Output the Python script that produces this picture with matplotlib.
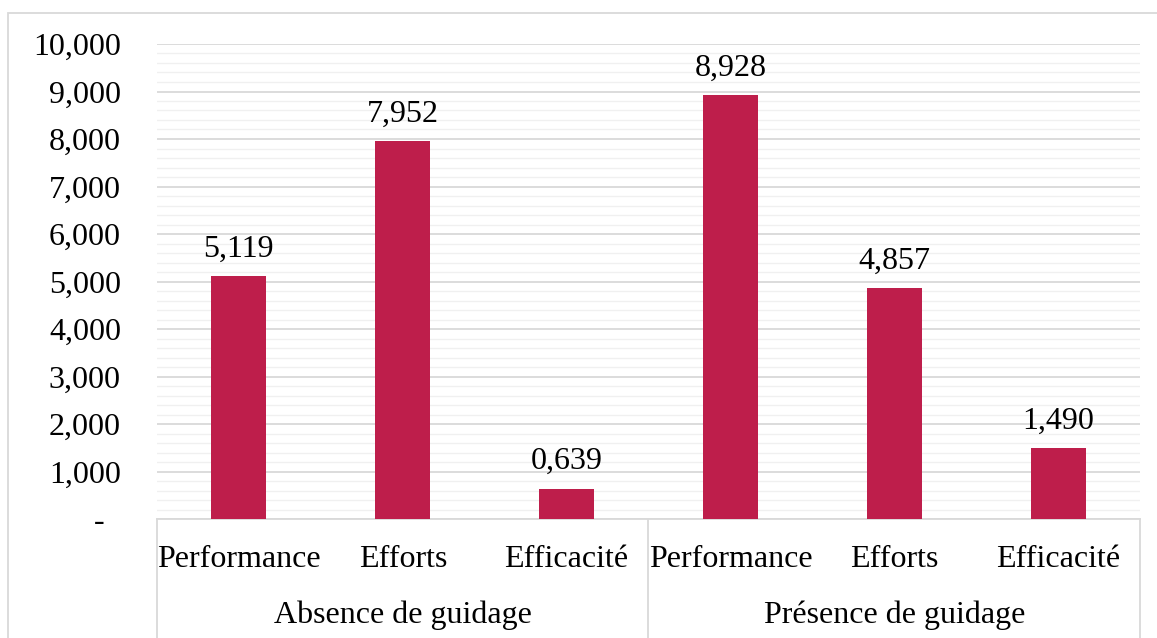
import matplotlib.pyplot as plt
from matplotlib.patches import Rectangle
from matplotlib.ticker import MultipleLocator

# Donnees
categories = ["Performance", "Efforts", "Efficacité", "Performance", "Efforts", "Efficacité"]
groupes = ["Absence de guidage", "Présence de guidage"]
valeurs = [5.119, 7.952, 0.639, 8.928, 4.857, 1.490]
graduations = [0, 1, 2, 3, 4, 5, 6, 7, 8, 9, 10]
etiquettes_y = ["-  "] + ["{:,.3f}".format(v).replace(".", ",") for v in graduations[1:]]

plt.rcParams['font.family'] = ['Liberation Serif', 'DejaVu Serif']
couleur = "#BE1E4B"
gris = "#d9d9d9"

W, H = 1157, 638
fig = plt.figure(figsize=(W / 100, H / 100), dpi=100)

# Cadre exterieur du graphique
fig.patches.append(Rectangle((8 / W, -0.1), 1.2, (H - 13) / H + 0.1,
                             transform=fig.transFigure, fill=False,
                             edgecolor=gris, linewidth=1.3))

ax = fig.add_axes([157 / W, (H - 519) / H, (1140 - 157) / W, (519 - 44) / H])
x = list(range(len(valeurs)))
ax.bar(x, valeurs, width=0.335, color=couleur, zorder=3)
ax.set_xlim(-0.5, len(valeurs) - 0.5)
ax.set_ylim(0, 10)

# Grille principale et secondaire
ax.yaxis.set_major_locator(MultipleLocator(1))
ax.yaxis.set_minor_locator(MultipleLocator(0.2))
ax.grid(axis='y', which='major', color=gris, linewidth=1.3, zorder=1)
ax.grid(axis='y', which='minor', color="#f0f0f0", linewidth=1.0, zorder=0)
ax.set_yticks(graduations)
ax.set_yticklabels(etiquettes_y, fontsize=23)
ax.tick_params(axis='y', which='both', length=0, pad=26)
ax.tick_params(axis='x', which='both', length=0, labelbottom=False)

for s in ['top', 'right', 'left']:
    ax.spines[s].set_visible(False)
ax.spines['bottom'].set_color(gris)
ax.spines['bottom'].set_linewidth(1.3)

# Etiquettes des valeurs
for xi, v in zip(x, valeurs):
    ax.annotate("{:.3f}".format(v).replace(".", ","), (xi, v), xytext=(0, 9),
                textcoords='offset points', ha='center', va='bottom', fontsize=23)

# Axe des categories a deux niveaux
tr = ax.get_xaxis_transform()
for xi, c in zip(x, categories):
    ax.text(xi, -0.101, c, transform=tr, ha='center', va='baseline', fontsize=23)
for i, g in enumerate(groupes):
    ax.text(i * 3 + 1, -0.219, g, transform=tr, ha='center', va='baseline', fontsize=23)
for sep in [-0.5, 2.5, 5.5]:
    ax.plot([sep, sep], [0, -0.4], transform=tr, color=gris, linewidth=1.3, clip_on=False)

fig.savefig("out.png", dpi=100)
